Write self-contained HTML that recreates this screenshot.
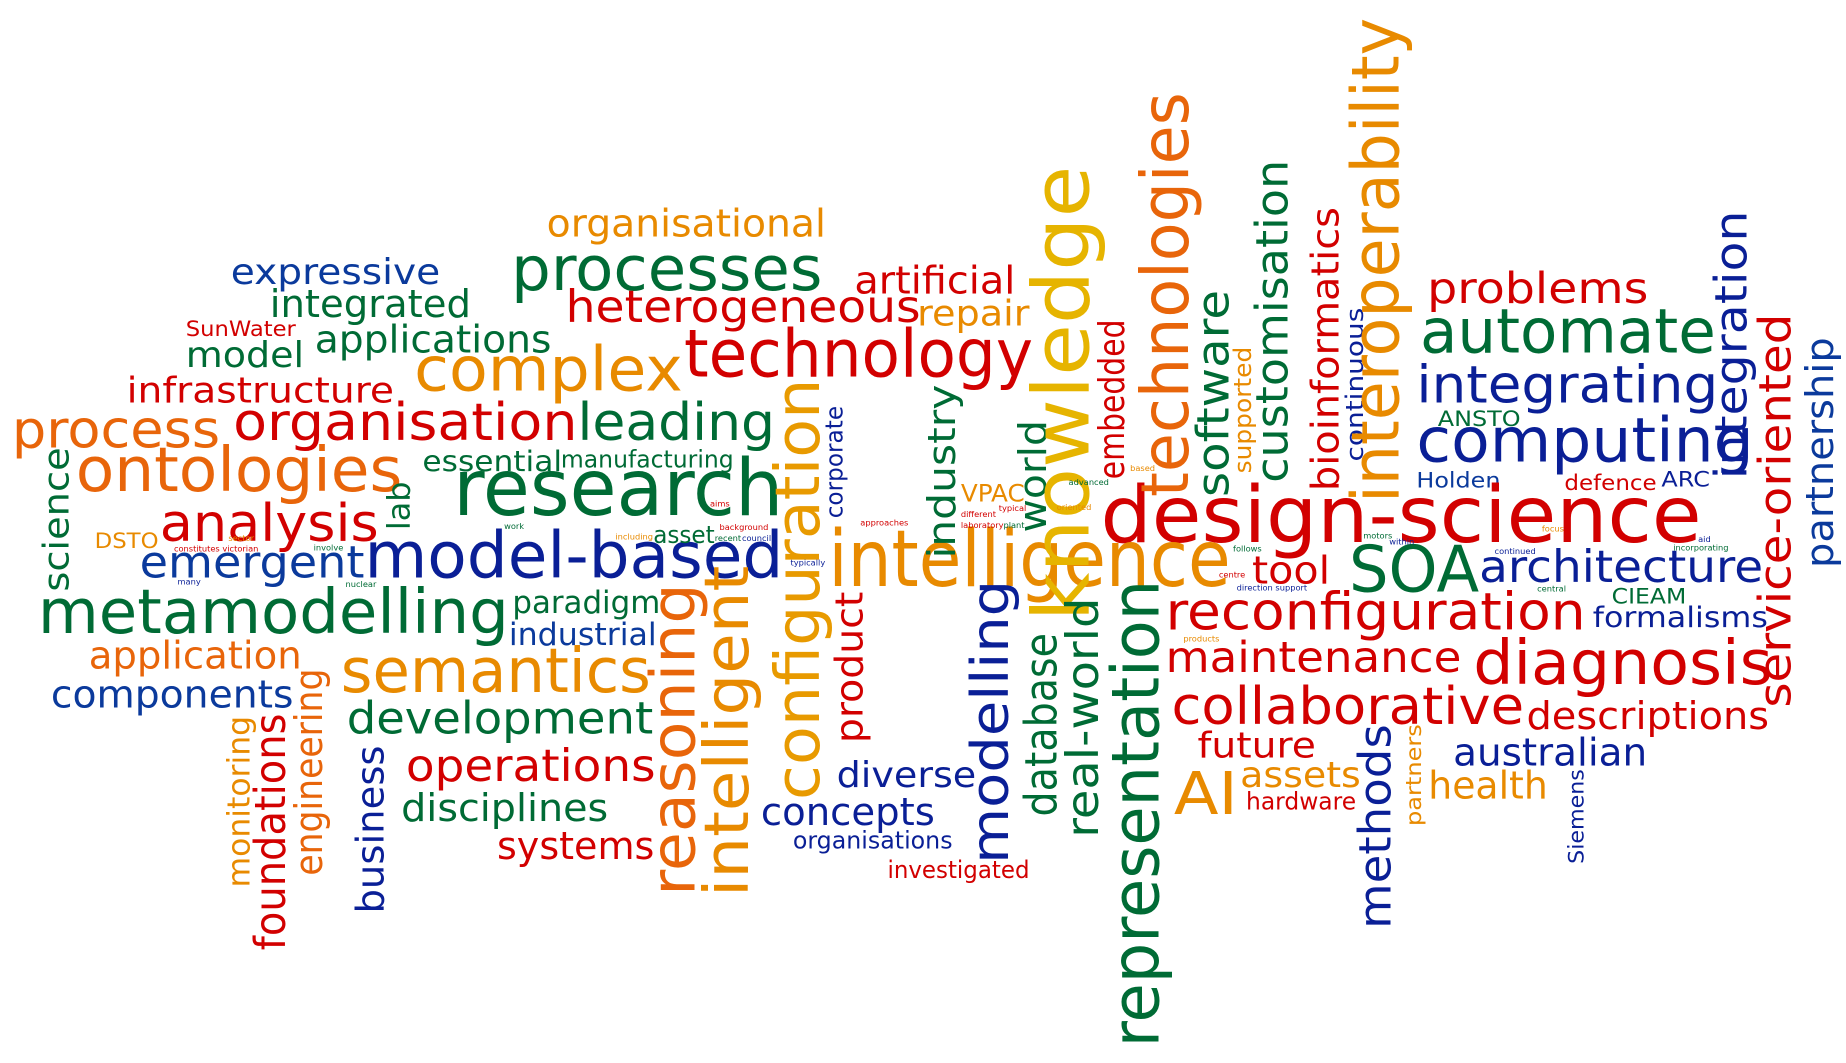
<!DOCTYPE html>
<html><head><meta charset="utf-8"><style>
html,body{margin:0;padding:0;background:#fff;}
svg{display:block;}
text{font-family:"DejaVu Sans","Liberation Sans",sans-serif;}
.R{fill:#d20000}.O{fill:#e8650a}.A{fill:#e88a00}.Y{fill:#e6b400}.G{fill:#006b35}.B{fill:#0a1f96}.C{fill:#0b3a9c}
</style></head><body>
<svg width="1846" height="1063" viewBox="0 0 1560 898.3" xmlns="http://www.w3.org/2000/svg">
<rect width="1560" height="899" fill="#fff"/>
<g>
<text class="A" x="462" y="200" font-size="32" textLength="236" lengthAdjust="spacingAndGlyphs">organisational</text>
<text class="C" x="195" y="240" font-size="30" textLength="177" lengthAdjust="spacingAndGlyphs">expressive</text>
<text class="G" x="432" y="245" font-size="52" textLength="263" lengthAdjust="spacingAndGlyphs">processes</text>
<text class="R" x="722" y="248" font-size="32" textLength="136" lengthAdjust="spacingAndGlyphs">artificial</text>
<text class="G" x="228" y="268" font-size="32" textLength="170" lengthAdjust="spacingAndGlyphs">integrated</text>
<text class="R" x="478" y="272" font-size="38" textLength="300" lengthAdjust="spacingAndGlyphs">heterogeneous</text>
<text class="A" x="775" y="275" font-size="30" textLength="95" lengthAdjust="spacingAndGlyphs">repair</text>
<text class="R" x="1206" y="256" font-size="36" textLength="187" lengthAdjust="spacingAndGlyphs">problems</text>
<text class="R" x="157" y="284" font-size="18" textLength="93" lengthAdjust="spacingAndGlyphs">SunWater</text>
<text class="G" x="266" y="298" font-size="32" textLength="200" lengthAdjust="spacingAndGlyphs">applications</text>
<text class="G" x="157" y="310" font-size="30" textLength="100" lengthAdjust="spacingAndGlyphs">model</text>
<text class="A" x="350" y="330" font-size="52" textLength="227" lengthAdjust="spacingAndGlyphs">complex</text>
<text class="R" x="578" y="318" font-size="56" textLength="295" lengthAdjust="spacingAndGlyphs">technology</text>
<text class="G" x="1200" y="298" font-size="52" textLength="250" lengthAdjust="spacingAndGlyphs">automate</text>
<text class="R" x="107" y="340" font-size="30" textLength="226" lengthAdjust="spacingAndGlyphs">infrastructure</text>
<text class="B" x="1197" y="340" font-size="44" textLength="255" lengthAdjust="spacingAndGlyphs">integrating</text>
<text class="O" x="10" y="378" font-size="44" textLength="176" lengthAdjust="spacingAndGlyphs">process</text>
<text class="R" x="197" y="372" font-size="44" textLength="291" lengthAdjust="spacingAndGlyphs">organisation</text>
<text class="G" x="488" y="372" font-size="44" textLength="167" lengthAdjust="spacingAndGlyphs">leading</text>
<text class="G" x="1215" y="360" font-size="18" textLength="70" lengthAdjust="spacingAndGlyphs">ANSTO</text>
<text class="B" x="1197" y="390" font-size="52" textLength="285" lengthAdjust="spacingAndGlyphs">computing</text>
<text class="O" x="64" y="415" font-size="52" textLength="276" lengthAdjust="spacingAndGlyphs">ontologies</text>
<text class="G" x="357" y="398" font-size="24" textLength="118" lengthAdjust="spacingAndGlyphs">essential</text>
<text class="G" x="474" y="395" font-size="20" textLength="146" lengthAdjust="spacingAndGlyphs">manufacturing</text>
<text class="G" x="383" y="435" font-size="66" textLength="279" lengthAdjust="spacingAndGlyphs">research</text>
<text class="C" x="1197" y="412" font-size="18" textLength="71" lengthAdjust="spacingAndGlyphs">Holden</text>
<text class="R" x="1322" y="414" font-size="18" textLength="78" lengthAdjust="spacingAndGlyphs">defence</text>
<text class="B" x="1404" y="411" font-size="18" textLength="41" lengthAdjust="spacingAndGlyphs">ARC</text>
<text class="R" x="135" y="457" font-size="44" textLength="185" lengthAdjust="spacingAndGlyphs">analysis</text>
<text class="A" x="80" y="463" font-size="18" textLength="54" lengthAdjust="spacingAndGlyphs">DSTO</text>
<text class="R" x="930" y="458" font-size="66" textLength="508" lengthAdjust="spacingAndGlyphs">design-science</text>
<text class="C" x="118" y="488" font-size="38" textLength="190" lengthAdjust="spacingAndGlyphs">emergent</text>
<text class="B" x="308" y="488" font-size="54" textLength="354" lengthAdjust="spacingAndGlyphs">model-based</text>
<text class="A" x="700" y="495" font-size="66" textLength="340" lengthAdjust="spacingAndGlyphs">intelligence</text>
<text class="G" x="1140" y="500" font-size="54" textLength="110" lengthAdjust="spacingAndGlyphs">SOA</text>
<text class="B" x="1250" y="492" font-size="38" textLength="240" lengthAdjust="spacingAndGlyphs">architecture</text>
<text class="R" x="1058" y="493" font-size="32" textLength="66" lengthAdjust="spacingAndGlyphs">tool</text>
<text class="G" x="32" y="535" font-size="52" textLength="398" lengthAdjust="spacingAndGlyphs">metamodelling</text>
<text class="G" x="433" y="518" font-size="26" textLength="125" lengthAdjust="spacingAndGlyphs">paradigm</text>
<text class="C" x="430" y="545" font-size="26" textLength="125" lengthAdjust="spacingAndGlyphs">industrial</text>
<text class="R" x="985" y="532" font-size="44" textLength="355" lengthAdjust="spacingAndGlyphs">reconfiguration</text>
<text class="G" x="1362" y="510" font-size="18" textLength="63" lengthAdjust="spacingAndGlyphs">CIEAM</text>
<text class="B" x="1346" y="530" font-size="24" textLength="148" lengthAdjust="spacingAndGlyphs">formalisms</text>
<text class="O" x="75" y="565" font-size="32" textLength="180" lengthAdjust="spacingAndGlyphs">application</text>
<text class="R" x="985" y="568" font-size="36" textLength="250" lengthAdjust="spacingAndGlyphs">maintenance</text>
<text class="R" x="1245" y="578" font-size="52" textLength="253" lengthAdjust="spacingAndGlyphs">diagnosis</text>
<text class="C" x="43" y="598" font-size="32" textLength="205" lengthAdjust="spacingAndGlyphs">components</text>
<text class="A" x="288" y="585" font-size="52" textLength="262" lengthAdjust="spacingAndGlyphs">semantics</text>
<text class="G" x="293" y="620" font-size="38" textLength="259" lengthAdjust="spacingAndGlyphs">development</text>
<text class="R" x="990" y="612" font-size="44" textLength="298" lengthAdjust="spacingAndGlyphs">collaborative</text>
<text class="R" x="1290" y="616" font-size="32" textLength="205" lengthAdjust="spacingAndGlyphs">descriptions</text>
<text class="R" x="343" y="660" font-size="38" textLength="211" lengthAdjust="spacingAndGlyphs">operations</text>
<text class="R" x="1012" y="640" font-size="30" textLength="100" lengthAdjust="spacingAndGlyphs">future</text>
<text class="B" x="1228" y="647" font-size="32" textLength="164" lengthAdjust="spacingAndGlyphs">australian</text>
<text class="B" x="707" y="665" font-size="30" textLength="118" lengthAdjust="spacingAndGlyphs">diverse</text>
<text class="A" x="992" y="688" font-size="50" textLength="54" lengthAdjust="spacingAndGlyphs">AI</text>
<text class="A" x="1048" y="665" font-size="30" textLength="102" lengthAdjust="spacingAndGlyphs">assets</text>
<text class="A" x="1207" y="675" font-size="32" textLength="101" lengthAdjust="spacingAndGlyphs">health</text>
<text class="G" x="339" y="694" font-size="32" textLength="175" lengthAdjust="spacingAndGlyphs">disciplines</text>
<text class="R" x="1053" y="684" font-size="20" textLength="93" lengthAdjust="spacingAndGlyphs">hardware</text>
<text class="B" x="643" y="697" font-size="32" textLength="147" lengthAdjust="spacingAndGlyphs">concepts</text>
<text class="R" x="420" y="726" font-size="32" textLength="133" lengthAdjust="spacingAndGlyphs">systems</text>
<text class="B" x="670" y="717" font-size="20" textLength="135" lengthAdjust="spacingAndGlyphs">organisations</text>
<text class="R" x="750" y="742" font-size="20" textLength="120" lengthAdjust="spacingAndGlyphs">investigated</text>
<text class="G" x="552" y="459" font-size="20" textLength="52" lengthAdjust="spacingAndGlyphs">asset</text>
<text class="A" x="812" y="424" font-size="20" textLength="54" lengthAdjust="spacingAndGlyphs">VPAC</text>

<!-- vertical words -->
<text class="G" transform="translate(58,500) rotate(-90)" font-size="30" textLength="122" lengthAdjust="spacingAndGlyphs">science</text>
<text class="G" transform="translate(346,448) rotate(-90)" font-size="26" textLength="41" lengthAdjust="spacingAndGlyphs">lab</text>
<text class="A" transform="translate(211,750) rotate(-90)" font-size="26" textLength="145" lengthAdjust="spacingAndGlyphs">monitoring</text>
<text class="R" transform="translate(241,803) rotate(-90)" font-size="36" textLength="200" lengthAdjust="spacingAndGlyphs">foundations</text>
<text class="O" transform="translate(272,740) rotate(-90)" font-size="32" textLength="175" lengthAdjust="spacingAndGlyphs">engineering</text>
<text class="B" transform="translate(324,772) rotate(-90)" font-size="32" textLength="142" lengthAdjust="spacingAndGlyphs">business</text>
<text class="O" transform="translate(587,757) rotate(-90)" font-size="52" textLength="264" lengthAdjust="spacingAndGlyphs">reasoning</text>
<text class="A" transform="translate(632,758) rotate(-90)" font-size="52" textLength="280" lengthAdjust="spacingAndGlyphs">intelligent</text>
<text style="fill:#e89a00" transform="translate(692,676) rotate(-90)" font-size="52" textLength="356" lengthAdjust="spacingAndGlyphs">configuration</text>
<text class="R" transform="translate(729,628) rotate(-90)" font-size="32" textLength="128" lengthAdjust="spacingAndGlyphs">product</text>
<text class="B" transform="translate(712,438) rotate(-90)" font-size="20" textLength="95" lengthAdjust="spacingAndGlyphs">corporate</text>
<text class="G" transform="translate(807,472) rotate(-90)" font-size="32" textLength="147" lengthAdjust="spacingAndGlyphs">industry</text>
<text class="B" transform="translate(852,730) rotate(-90)" font-size="44" textLength="240" lengthAdjust="spacingAndGlyphs">modelling</text>
<text class="G" transform="translate(884,450) rotate(-90)" font-size="32" textLength="95" lengthAdjust="spacingAndGlyphs">world</text>
<text class="G" transform="translate(893,690) rotate(-90)" font-size="38" textLength="155" lengthAdjust="spacingAndGlyphs">database</text>
<text class="Y" transform="translate(920,525) rotate(-90)" font-size="66" textLength="385" lengthAdjust="spacingAndGlyphs">knowledge</text>
<text class="G" transform="translate(928,708) rotate(-90)" font-size="38" textLength="203" lengthAdjust="spacingAndGlyphs">real-world</text>
<text class="R" transform="translate(950,405) rotate(-90)" font-size="30" textLength="135" lengthAdjust="spacingAndGlyphs">embedded</text>
<text class="G" transform="translate(979,885) rotate(-90)" font-size="56" textLength="395" lengthAdjust="spacingAndGlyphs">representation</text>
<text class="O" transform="translate(1004,420) rotate(-90)" font-size="56" textLength="342" lengthAdjust="spacingAndGlyphs">technologies</text>
<text class="G" transform="translate(1038,420) rotate(-90)" font-size="38" textLength="175" lengthAdjust="spacingAndGlyphs">software</text>
<text class="A" transform="translate(1057,400) rotate(-90)" font-size="20" textLength="107" lengthAdjust="spacingAndGlyphs">supported</text>
<text class="G" transform="translate(1088,408) rotate(-90)" font-size="38" textLength="273" lengthAdjust="spacingAndGlyphs">customisation</text>
<text class="R" transform="translate(1131,415) rotate(-90)" font-size="32" textLength="240" lengthAdjust="spacingAndGlyphs">bioinformatics</text>
<text class="B" transform="translate(1152,390) rotate(-90)" font-size="20" textLength="130" lengthAdjust="spacingAndGlyphs">continuous</text>
<text class="A" transform="translate(1182,425) rotate(-90)" font-size="56" textLength="410" lengthAdjust="spacingAndGlyphs">interoperability</text>
<text class="B" transform="translate(1175,785) rotate(-90)" font-size="38" textLength="173" lengthAdjust="spacingAndGlyphs">methods</text>
<text class="A" transform="translate(1201,698) rotate(-90)" font-size="18" textLength="86" lengthAdjust="spacingAndGlyphs">partners</text>
<text class="B" transform="translate(1476,405) rotate(-90)" font-size="38" textLength="227" lengthAdjust="spacingAndGlyphs">integration</text>
<text class="R" transform="translate(1513,598) rotate(-90)" font-size="38" textLength="333" lengthAdjust="spacingAndGlyphs">service-oriented</text>
<text class="C" transform="translate(1549,480) rotate(-90)" font-size="32" textLength="195" lengthAdjust="spacingAndGlyphs">partnership</text>
<text class="B" transform="translate(1338,730) rotate(-90)" font-size="18" textLength="80" lengthAdjust="spacingAndGlyphs">Siemens</text>

<!-- small words -->
<g font-size="7">
<text class="A" x="193" y="457">sector</text>
<text class="R" x="147" y="466">constitutes victorian</text>
<text class="G" x="265" y="465">involve</text>
<text class="B" x="150" y="494">many</text>
<text class="G" x="292" y="496">nuclear</text>
<text class="G" x="426" y="447">work</text>
<text class="A" x="520" y="456">including</text>
<text class="R" x="600" y="428">aims</text>
<text class="R" x="608" y="448">background</text>
<text class="G" x="604" y="457">recent</text>
<text class="B" x="627" y="457">council</text>
<text class="B" x="668" y="478">typically</text>
<text class="R" x="727" y="444">approaches</text>
<text class="R" x="812" y="437">different</text>
<text class="R" x="812" y="446">laboratory</text>
<text class="G" x="848" y="446">plant</text>
<text class="R" x="844" y="432">typical</text>
<text class="G" x="903" y="410">advanced</text>
<text class="A" x="893" y="431">oriented</text>
<text class="A" x="955" y="398">based</text>
<text class="G" x="1042" y="466">follows</text>
<text class="R" x="1030" y="488">centre</text>
<text class="B" x="1045" y="499">direction support</text>
<text class="G" x="1152" y="455">motors</text>
<text class="B" x="1174" y="460">within</text>
<text class="A" x="1303" y="449">focus</text>
<text class="B" x="1263" y="468">continued</text>
<text class="B" x="1435" y="458">aid</text>
<text class="G" x="1414" y="465">incorporating</text>
<text class="G" x="1299" y="500">central</text>
<text class="A" x="1000" y="542">products</text>
</g>
</g>
</svg>
</body></html>
